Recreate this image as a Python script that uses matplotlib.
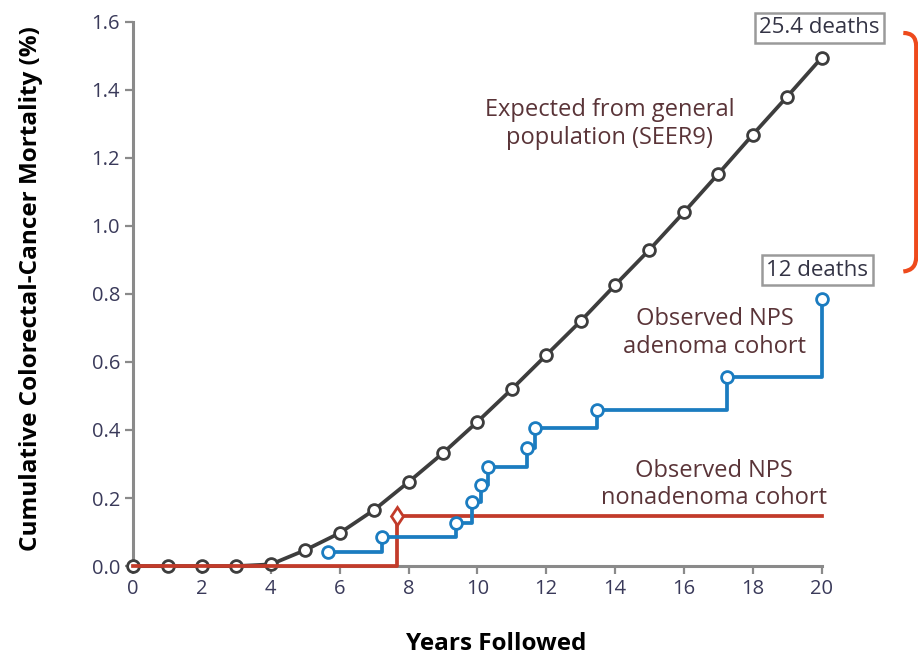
import numpy as np
import matplotlib
matplotlib.use('Agg')
import matplotlib.pyplot as plt
from matplotlib.path import Path
from matplotlib.patches import PathPatch

plt.rcParams['font.family'] = ['Open Sans', 'DejaVu Sans']

# expected from general population (SEER9)
exp_years = list(range(0, 21))
expected = [0, 0, 0, 0, 0.005, 0.047, 0.097, 0.165, 0.247, 0.332, 0.424,
            0.52, 0.62, 0.72, 0.826, 0.93, 1.04, 1.153, 1.268, 1.38, 1.494]

# observed NPS adenoma cohort
aden_years = [5.66, 7.22, 9.39, 9.85, 10.12, 10.31, 11.43, 11.67, 13.47, 17.24, 20.0]
aden_mort = [0.042, 0.086, 0.126, 0.189, 0.238, 0.29, 0.346, 0.405, 0.459, 0.556, 0.785]

# observed NPS nonadenoma cohort
non_years = [0, 7.66, 20.0]
non_mort = [0, 0.147, 0.147]
non_event = 7.66

xticks = list(range(0, 21, 2))
yticks = [0.0, 0.2, 0.4, 0.6, 0.8, 1.0, 1.2, 1.4, 1.6]

c_black = '#3d3d3d'
c_blue = '#1b7cc0'
c_red = '#c23b2a'
c_text = '#5a3438'

fig = plt.figure(figsize=(9.18, 6.59), dpi=100)
ax = fig.add_axes([0.145, 0.141, 0.750, 0.826])

ax.plot(exp_years, expected, color=c_black, lw=2.7, marker='o', ms=8.5,
        mfc='white', mec=c_black, mew=2, zorder=3, clip_on=False)

ax.step(non_years, non_mort, where='post', color=c_red, lw=2.7, zorder=4, clip_on=False)
ax.plot([non_event], [non_mort[1]], ls='none', marker='d', ms=9.5,
        mfc='white', mec=c_red, mew=2, zorder=5, clip_on=False)

ax.step(aden_years, aden_mort, where='post', color=c_blue, lw=2.7, zorder=4, clip_on=False)
ax.plot(aden_years, aden_mort, ls='none', marker='o', ms=8.5,
        mfc='white', mec=c_blue, mew=2, zorder=5, clip_on=False)

ax.set_xlim(0, 20)
ax.set_ylim(0, 1.6)
ax.set_xticks(xticks)
ax.set_yticks(yticks)
ax.set_yticklabels(['%.1f' % v for v in yticks])
for s in ['top', 'right']:
    ax.spines[s].set_visible(False)
for s in ['left', 'bottom']:
    ax.spines[s].set_color('#8a8a8a')
    ax.spines[s].set_linewidth(2.2)
ax.tick_params(axis='both', colors='#8a8a8a', width=1.6, length=6,
               labelsize=14.5, labelcolor='#3a3a5a')

ax.set_xlabel('Years Followed', fontsize=17.5, fontweight='bold')
ax.set_ylabel('Cumulative Colorectal-Cancer Mortality (%)', fontsize=17.5,
              fontweight='bold')
ax.xaxis.set_label_coords(0.528, -0.122)
ax.yaxis.set_label_coords(-0.131, 0.509)

ax.text(13.85, 1.3, 'Expected from general\npopulation (SEER9)', ha='center',
        va='center', fontsize=17, color=c_text, linespacing=1.2)
ax.text(16.9, 0.685, 'Observed NPS\nadenoma cohort', ha='center',
        va='center', fontsize=17, color=c_text, linespacing=1.2)
ax.text(16.87, 0.24, 'Observed NPS\nnonadenoma cohort', ha='center',
        va='center', fontsize=17, color=c_text, linespacing=1.2)

box = dict(boxstyle='square,pad=0.2', fc='white', ec='#9a9a9a', lw=1.8)
ax.text(19.94, 1.582, '25.4 deaths', ha='center', va='center', fontsize=16,
        color='#333344', bbox=box, clip_on=False)
ax.text(19.88, 0.87, '12 deaths', ha='center', va='center', fontsize=16,
        color='#333344', bbox=box, clip_on=False)

# red bracket on the right edge
verts = [(0.984, 0.950), (0.998, 0.950), (0.998, 0.930), (0.998, 0.610),
         (0.998, 0.590), (0.984, 0.588)]
codes = [Path.MOVETO, Path.CURVE3, Path.CURVE3, Path.LINETO, Path.CURVE3, Path.CURVE3]
fig.patches.append(PathPatch(Path(verts, codes), transform=fig.transFigure,
                             fill=False, ec='#ee4a1c', lw=3))

fig.savefig('out.png', dpi=100)
